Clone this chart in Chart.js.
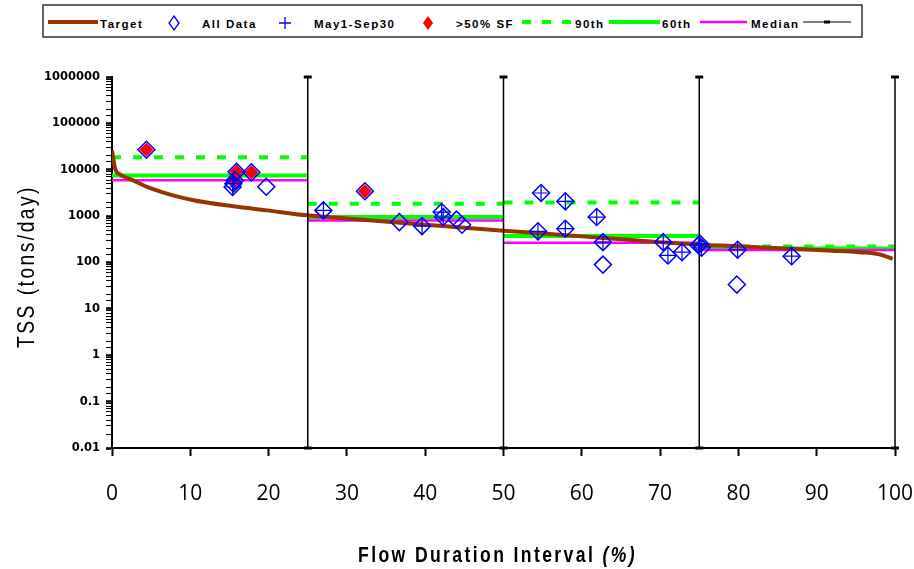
<!DOCTYPE html>
<html>
<head>
<meta charset="utf-8">
<script src="https://cdn.jsdelivr.net/npm/chart.js@4.4.0/dist/chart.umd.min.js"></script>
<style>
  html, body { margin: 0; padding: 0; background: #fff; }
  #wrap { position: relative; width: 914px; height: 569px; }
  #graphique, #legende { position: absolute; left: 0; top: 0; }
  #legende text { font-family: "Liberation Sans", Arial, sans-serif; font-weight: bold; font-size: 11.5px; letter-spacing: 1.5px; fill: #000; }
</style>
</head>
<body>
<div id="wrap">
  <canvas id="graphique" width="914" height="569"></canvas>
  <svg id="legende" width="914" height="42">
    <rect x="43" y="5" width="819" height="32" fill="#fff" stroke="#333" stroke-width="1.5"/>
    <line x1="48" y1="22" x2="98" y2="22" stroke="#993300" stroke-width="4"/>
    <text x="100" y="27.5">Target</text>
    <path d="M174,16 L179,23 L174,30 L169,23 Z" fill="none" stroke="#0000ff" stroke-width="1.3"/>
    <text x="202" y="27.5">All Data</text>
    <path d="M285,17 L285,29 M279,23 L291,23" stroke="#0000ff" stroke-width="1.3"/>
    <text x="314" y="27.5">May1-Sep30</text>
    <path d="M428,16 L433,23 L428,30 L423,23 Z" fill="#ff0000"/>
    <text x="456" y="27.5">&gt;50% SF</text>
    <line x1="522" y1="22" x2="573" y2="22" stroke="#00ff00" stroke-width="4" stroke-dasharray="9,11"/>
    <text x="575" y="27.5">90th</text>
    <line x1="609" y1="22" x2="660" y2="22" stroke="#00ff00" stroke-width="4"/>
    <text x="662" y="27.5">60th</text>
    <line x1="700" y1="22" x2="747" y2="22" stroke="#ff00ff" stroke-width="2.5"/>
    <text x="751" y="27.5">Median</text>
    <line x1="803" y1="22" x2="851" y2="22" stroke="#000" stroke-width="1.2"/>
    <rect x="824" y="20.5" width="6" height="3" fill="#000"/>
  </svg>
</div>
<script>
// load duration curve (target)
var targetFdi = [0, 0.4, 1, 2.7, 4.9, 7, 10.4, 15.5, 19.8, 24.9, 30, 36.8, 43, 49.6, 55, 62.3, 70, 75.1, 80, 86.6, 92, 95.5, 98, 99.7];
var targetTss = [26000, 10500, 8000, 5900, 4000, 3060, 2200, 1630, 1330, 1040, 890, 720, 600, 490, 422, 343, 275, 242, 225, 198, 180, 167, 150, 120];

// observed loads
var allFdi = [4.4, 15.4, 15.5, 15.7, 15.9, 17.8, 19.7, 27.0, 32.3, 36.7, 39.6, 42.1, 42.3, 44.0, 44.7, 54.4, 54.8, 57.9, 57.9, 61.9, 62.7, 62.7, 70.4, 71.0, 72.8, 74.9, 75.1, 75.3, 79.8, 79.9, 86.8];
var allTss = [27000, 4250, 5000, 5900, 9000, 8800, 4300, 1330, 3430, 744, 610, 1225, 955, 840, 650, 470, 3150, 2085, 535, 955, 275, 90, 275, 142, 167, 235, 254, 208, 33.4, 188, 137];

var mayFdi = [15.4, 15.5, 27.0, 39.6, 42.1, 42.3, 54.4, 54.8, 57.9, 57.9, 61.9, 62.7, 70.4, 71.0, 72.8, 74.9, 75.1, 75.3, 79.9, 86.8];
var mayTss = [4250, 5000, 1330, 610, 1225, 955, 470, 3150, 2085, 535, 955, 275, 275, 142, 167, 235, 254, 208, 188, 137];

var sfFdi = [4.4, 15.7, 15.9, 17.8, 32.3];
var sfTss = [27000, 5900, 9000, 8800, 3430];

// flow zones and percentiles per zone
var zones = [0, 25, 50, 75, 100];
var p90 = [18600, 1860, 1955, 222];
var p60 = [7500, 955, 371, 200];
var median = [5930, 809, 267, 185];

var yMin = 0.01, yMax = 1000000;

function points(xs, ys) {
  return xs.map(function(x, i) { return {x: x, y: ys[i]}; });
}

function zoneLine(vals) {
  var pts = [];
  vals.forEach(function(v, i) {
    pts.push({x: zones[i], y: v}, {x: zones[i + 1], y: v}, {x: zones[i + 1], y: null});
  });
  return pts;
}

function zoneBars() {
  var pts = [];
  zones.slice(1).forEach(function(z) {
    pts.push({x: z, y: yMin}, {x: z, y: yMax}, {x: z, y: null});
  });
  return pts;
}

function isDecade(v) {
  var e = Math.log10(v);
  return Math.abs(e - Math.round(e)) < 1e-9;
}

// axis titles: narrow, letter-spaced like the original
var axisTitles = {
  id: 'axisTitles',
  afterDraw: function(chart) {
    var ctx = chart.ctx, a = chart.chartArea;
    var fam = '"Liberation Sans", Arial, sans-serif';
    var narrow = 0.8;

    // x title
    ctx.save();
    ctx.fillStyle = '#000';
    ctx.textBaseline = 'middle';
    ctx.textAlign = 'left';
    var f1 = 'bold 22px ' + fam, f2 = 'italic bold 22px ' + fam;
    var t1 = 'Flow Duration Interval ', t2 = '(%)';
    ctx.letterSpacing = '0px';
    ctx.font = f1; var w1 = ctx.measureText(t1).width;
    ctx.font = f2; var w2 = ctx.measureText(t2).width;
    var sp = Math.max(0, (279 / narrow - w1 - w2) / (t1.length + t2.length));
    ctx.letterSpacing = sp + 'px';
    ctx.font = f1; w1 = ctx.measureText(t1).width;
    ctx.font = f2; w2 = ctx.measureText(t2).width;
    ctx.translate((a.left + a.right) / 2 - 6, a.bottom + 108);
    ctx.scale(narrow, 1);
    var x0 = -(w1 + w2) / 2;
    ctx.font = f1; ctx.fillText(t1, x0, 0);
    ctx.font = f2; ctx.fillText(t2, x0 + w1, 0);
    ctx.restore();

    // y title
    ctx.save();
    ctx.fillStyle = '#000';
    ctx.textBaseline = 'middle';
    ctx.textAlign = 'center';
    var t3 = 'TSS (tons/day)';
    ctx.letterSpacing = '0px';
    ctx.font = '24px ' + fam;
    var w3 = ctx.measureText(t3).width;
    ctx.letterSpacing = Math.max(0, (163 / narrow - w3) / t3.length) + 'px';
    ctx.translate(a.left - 85, (a.top + a.bottom) / 2 + 4);
    ctx.rotate(-Math.PI / 2);
    ctx.scale(narrow, 1);
    ctx.fillText(t3, 0, 0);
    ctx.restore();
  }
};

var ctx = document.getElementById('graphique');

var chart = new Chart(ctx, {
  type: 'line',
  data: {
    datasets: [
      {
        label: 'Target',
        data: points(targetFdi, targetTss),
        borderColor: '#993300',
        borderWidth: 4,
        pointRadius: 0,
        cubicInterpolationMode: 'monotone',
        order: 4
      },
      {
        label: 'All Data',
        data: points(allFdi, allTss),
        showLine: false,
        pointStyle: 'rectRot',
        pointRadius: 8.5,
        pointBorderWidth: 1.5,
        pointBorderColor: '#0000ff',
        pointBackgroundColor: 'rgba(0,0,0,0)',
        order: 1
      },
      {
        label: 'May1-Sep30',
        data: points(mayFdi, mayTss),
        showLine: false,
        pointStyle: 'cross',
        pointRadius: 8.5,
        pointBorderWidth: 1.2,
        pointBorderColor: '#0000ff',
        order: 0
      },
      {
        label: '>50% SF',
        data: points(sfFdi, sfTss),
        showLine: false,
        pointStyle: 'rectRot',
        pointRadius: 7,
        pointBorderWidth: 0,
        pointBackgroundColor: '#ff0000',
        pointBorderColor: '#ff0000',
        order: 2
      },
      {
        label: '90th',
        data: zoneLine(p90),
        borderColor: '#00ff00',
        borderWidth: 4,
        borderDash: [9, 12],
        pointRadius: 0,
        spanGaps: false,
        order: 7
      },
      {
        label: '60th',
        data: zoneLine(p60),
        borderColor: '#00ff00',
        borderWidth: 4,
        pointRadius: 0,
        spanGaps: false,
        order: 6
      },
      {
        label: 'Median',
        data: zoneLine(median),
        borderColor: '#ff00ff',
        borderWidth: 2.5,
        pointRadius: 0,
        spanGaps: false,
        order: 5
      },
      {
        label: '',
        data: zoneBars(),
        borderColor: '#000',
        borderWidth: 1.5,
        pointStyle: 'line',
        pointRadius: 4,
        pointBorderWidth: 3,
        pointBorderColor: '#000',
        spanGaps: false,
        clip: 6,
        order: 3
      }
    ]
  },
  options: {
    responsive: false,
    animation: false,
    events: [],
    layout: { padding: { top: 77, right: 19, left: 0, bottom: 0 } },
    plugins: {
      legend: { display: false },
      tooltip: { enabled: false }
    },
    scales: {
      x: {
        type: 'linear',
        min: 0,
        max: 100,
        afterFit: function(s) { s.height = 121; s.paddingRight = 0; s.paddingLeft = 0; },
        ticks: {
          stepSize: 10,
          padding: 25,
          color: '#000',
          font: { family: 'Open Sans', size: 21 }
        },
        grid: {
          drawOnChartArea: false,
          tickLength: 8,
          tickWidth: 2,
          tickColor: '#000'
        },
        border: { color: '#000', width: 2 }
      },
      y: {
        type: 'logarithmic',
        min: yMin,
        max: yMax,
        afterFit: function(s) { s.width = 112; s.paddingTop = 0; s.paddingBottom = 0; },
        ticks: {
          autoSkip: false,
          padding: 6,
          color: '#000',
          font: { family: 'DejaVu Sans', size: 11.5, weight: 'bold' },
          callback: function(v) {
            if (!isDecade(v)) return '';
            var e = Math.round(Math.log10(v));
            return e >= 0 ? String(Math.pow(10, e)) : Math.pow(10, e).toFixed(-e);
          }
        },
        grid: {
          drawOnChartArea: false,
          tickLength: 6,
          tickColor: '#000',
          tickWidth: function(c) { return c.tick && isDecade(c.tick.value) ? 2.5 : 1; }
        },
        border: { color: '#000', width: 2 }
      }
    }
  },
  plugins: [axisTitles]
});
</script>
</body>
</html>
